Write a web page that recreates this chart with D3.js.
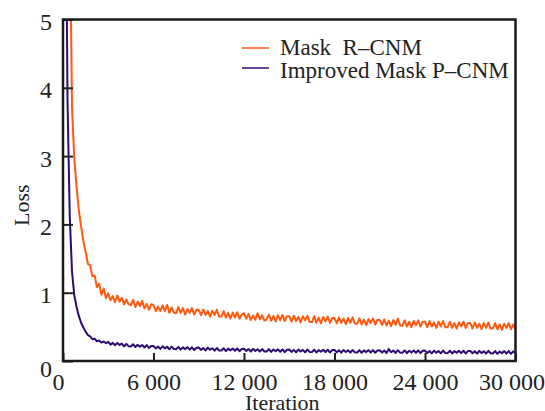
<!DOCTYPE html>
<html lang="en">
<head>
  <meta charset="UTF-8">
  <title>Loss curves</title>
  <style>
    body { margin: 0; background: #fff; }
    svg text { font-family: "Liberation Serif", "DejaVu Serif", serif; fill: #222; }
  </style>
</head>
<body>
  <div id="chart"></div>
  <script src="https://cdn.jsdelivr.net/npm/d3@7/dist/d3.min.js"></script>
  <script>
    const iterStep = 150;
    const seriesNames = ["Mask  R\u2013CNM", "Improved Mask P\u2013CNM"];
    const maskRcnm = [
      14, 12, 10, 6.5, 3.7, 2.95, 2.55, 2.2, 1.97, 1.75,
      1.60, 1.42, 1.40, 1.24, 1.25, 1.08, 1.13, 0.97, 1.06, 0.92,
      0.99, 0.89, 0.95, 0.86, 0.96, 0.87, 0.925, 0.83, 0.90, 0.83,
      0.82, 0.895, 0.79, 0.87, 0.805, 0.88, 0.77, 0.835, 0.75, 0.83,
      0.82, 0.73, 0.795, 0.73, 0.815, 0.73, 0.82, 0.705, 0.78, 0.71,
      0.70, 0.79, 0.705, 0.775, 0.68, 0.76, 0.705, 0.775, 0.68, 0.75,
      0.75, 0.67, 0.755, 0.675, 0.73, 0.65, 0.735, 0.675, 0.75, 0.65,
      0.65, 0.73, 0.635, 0.705, 0.62, 0.71, 0.635, 0.715, 0.62, 0.68,
      0.70, 0.62, 0.69, 0.60, 0.665, 0.605, 0.70, 0.61, 0.67, 0.59,
      0.61, 0.68, 0.59, 0.66, 0.58, 0.67, 0.60, 0.675, 0.585, 0.655,
      0.655, 0.575, 0.665, 0.585, 0.645, 0.565, 0.655, 0.595, 0.66, 0.57,
      0.57, 0.655, 0.56, 0.635, 0.55, 0.645, 0.58, 0.65, 0.56, 0.63,
      0.63, 0.55, 0.64, 0.56, 0.62, 0.54, 0.63, 0.56, 0.64, 0.55,
      0.545, 0.625, 0.535, 0.605, 0.525, 0.615, 0.555, 0.625, 0.535, 0.605,
      0.60, 0.53, 0.61, 0.52, 0.59, 0.51, 0.60, 0.53, 0.62, 0.52,
      0.515, 0.595, 0.505, 0.575, 0.495, 0.585, 0.525, 0.595, 0.505, 0.575,
      0.575, 0.495, 0.585, 0.505, 0.565, 0.485, 0.575, 0.505, 0.585, 0.495,
      0.495, 0.575, 0.485, 0.555, 0.475, 0.565, 0.505, 0.575, 0.485, 0.555,
      0.555, 0.475, 0.565, 0.485, 0.545, 0.465, 0.555, 0.485, 0.565, 0.475,
      0.475, 0.555, 0.465, 0.535, 0.455, 0.545, 0.485, 0.555, 0.465, 0.535,
      0.46
    ];
    const improvedPcnm = [
      12, 8, 3.8, 2.1, 1.3, 0.96, 0.79, 0.66, 0.56, 0.49,
      0.43, 0.38, 0.36, 0.32, 0.325, 0.29, 0.30, 0.27, 0.285, 0.26,
      0.28, 0.24, 0.265, 0.23, 0.265, 0.235, 0.255, 0.215, 0.25, 0.215,
      0.213, 0.245, 0.205, 0.238, 0.21, 0.235, 0.198, 0.233, 0.19, 0.22,
      0.22, 0.184, 0.213, 0.177, 0.215, 0.185, 0.208, 0.172, 0.21, 0.175,
      0.173, 0.207, 0.166, 0.20, 0.174, 0.203, 0.167, 0.201, 0.161, 0.195,
      0.198, 0.162, 0.191, 0.155, 0.194, 0.164, 0.187, 0.151, 0.19, 0.155,
      0.153, 0.187, 0.146, 0.181, 0.156, 0.184, 0.15, 0.183, 0.143, 0.177,
      0.18, 0.145, 0.174, 0.139, 0.178, 0.148, 0.172, 0.137, 0.175, 0.14,
      0.139, 0.173, 0.133, 0.168, 0.142, 0.171, 0.136, 0.171, 0.13, 0.165,
      0.168, 0.133, 0.163, 0.128, 0.168, 0.138, 0.163, 0.128, 0.168, 0.133,
      0.13, 0.165, 0.125, 0.16, 0.135, 0.165, 0.13, 0.165, 0.125, 0.16,
      0.162, 0.127, 0.157, 0.122, 0.162, 0.132, 0.157, 0.122, 0.162, 0.127,
      0.125, 0.16, 0.12, 0.155, 0.13, 0.16, 0.125, 0.16, 0.12, 0.155,
      0.158, 0.123, 0.153, 0.118, 0.175, 0.128, 0.153, 0.118, 0.158, 0.123,
      0.12, 0.155, 0.115, 0.15, 0.125, 0.155, 0.12, 0.155, 0.115, 0.15,
      0.152, 0.117, 0.147, 0.112, 0.152, 0.122, 0.147, 0.112, 0.152, 0.117,
      0.115, 0.15, 0.11, 0.145, 0.12, 0.15, 0.115, 0.15, 0.11, 0.145,
      0.148, 0.113, 0.143, 0.108, 0.148, 0.118, 0.143, 0.108, 0.148, 0.113,
      0.11, 0.145, 0.105, 0.14, 0.115, 0.145, 0.11, 0.145, 0.105, 0.14,
      0.125
    ];
    const xTicks = [0, 6000, 12000, 18000, 24000, 30000];
    const xTickLabels = ["0", "6 000", "12 000", "18 000", "24 000", "30 000"];
    const yTicks = [0, 1, 2, 3, 4, 5];
    const colors = ["#ff5a0f", "#2e0b72"];

    // ---- layout ----
    const W = 545, H = 411;
    const margin = { top: 19.5, right: 29.5, bottom: 50, left: 63 };
    const width = W - margin.left - margin.right;
    const height = H - margin.top - margin.bottom;

    const svg = d3.select("#chart").append("svg")
      .attr("width", W)
      .attr("height", H);

    const g = svg.append("g")
      .attr("transform", `translate(${margin.left}, ${margin.top})`);

    const x = d3.scaleLinear().domain([0, 30000]).range([0, width]);
    const y = d3.scaleLinear().domain([0, 5]).range([height, 0]);

    g.append("clipPath").attr("id", "plot-clip")
      .append("rect")
      .attr("width", width)
      .attr("height", height);

    // lines
    const line = d3.line()
      .x((d, i) => x(i * iterStep))
      .y(d => y(d));

    const plot = g.append("g").attr("clip-path", "url(#plot-clip)");
    [maskRcnm, improvedPcnm].forEach((s, k) => {
      plot.append("path")
        .datum(s)
        .attr("fill", "none")
        .attr("stroke", colors[k])
        .attr("stroke-width", 2)
        .attr("stroke-linejoin", "round")
        .attr("d", line);
    });

    // axes (ticks pointing inward)
    const yAxis = d3.axisLeft(y)
      .tickValues(yTicks)
      .tickSize(-10)
      .tickPadding(11)
      .tickFormat(d3.format("d"));

    g.append("g")
      .attr("class", "y-axis")
      .call(yAxis)
      .call(a => a.select(".domain").remove())
      .call(a => a.selectAll("line").attr("stroke", "#222").attr("stroke-width", 2))
      .selectAll("text")
      .attr("font-size", "24px")
      .attr("dy", d => d === 0 ? "0.65em" : "0.42em");

    const xAxis = d3.axisBottom(x)
      .tickValues(xTicks)
      .tickSize(-8)
      .tickPadding(12)
      .tickFormat((d, i) => xTickLabels[i]);

    g.append("g")
      .attr("class", "x-axis")
      .attr("transform", `translate(0, ${height})`)
      .call(xAxis)
      .call(a => a.select(".domain").remove())
      .call(a => a.selectAll("line").attr("stroke", "#222").attr("stroke-width", 2))
      .selectAll("text")
      .attr("font-size", "24px")
      .attr("dx", d => d === 0 ? "-5px" : (d === 30000 ? "-4px" : "0"));

    // frame
    g.append("rect")
      .attr("width", width)
      .attr("height", height)
      .attr("fill", "none")
      .attr("stroke", "#1a1a1a")
      .attr("stroke-width", 2.5);

    // axis titles
    svg.append("text")
      .attr("x", margin.left + width / 2 - 7)
      .attr("y", 410)
      .attr("text-anchor", "middle")
      .attr("font-size", "22px")
      .text("Iteration");

    svg.append("text")
      .attr("transform", `translate(29, ${margin.top + height / 2 + 15}) rotate(-90)`)
      .attr("text-anchor", "middle")
      .attr("font-size", "22px")
      .text("Loss");

    // legend
    const legend = svg.append("g").attr("transform", "translate(242, 0)");
    seriesNames.forEach((name, k) => {
      legend.append("line")
        .attr("x1", 0).attr("x2", 27)
        .attr("y1", 48 + k * 20).attr("y2", 48 + k * 20)
        .attr("stroke", colors[k])
        .attr("stroke-opacity", 0.75)
        .attr("stroke-width", 2);
      legend.append("text")
        .attr("x", 38)
        .attr("y", 55 + k * 23)
        .attr("font-size", "23px")
        .style("white-space", "pre")
        .text(name);
    });
  </script>
</body>
</html>
